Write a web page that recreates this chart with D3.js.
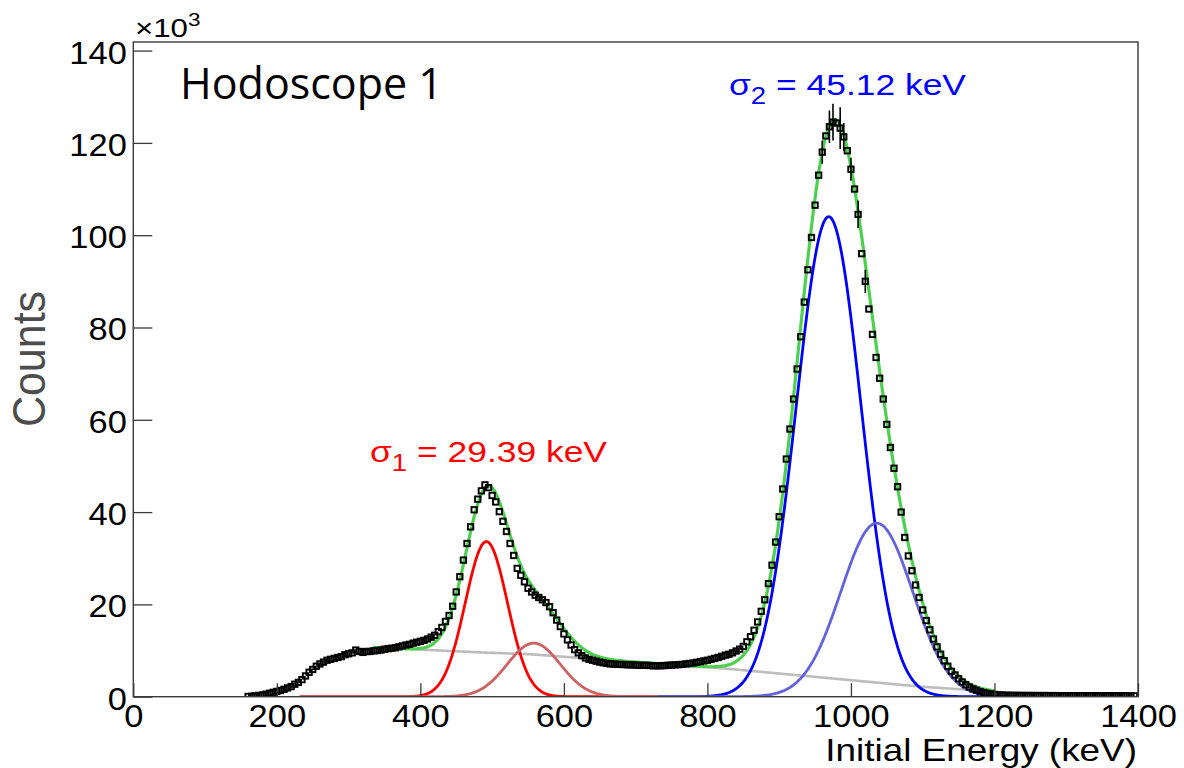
<!DOCTYPE html>
<html>
<head>
<meta charset="utf-8">
<script src="https://cdn.jsdelivr.net/npm/d3@7"></script>
<style>
  html, body { margin: 0; padding: 0; background: #fff; }
  svg { display: block; }
</style>
</head>
<body>
<svg id="chart" width="1184" height="768"></svg>
<script>
// ---- histogram: counts (x10^3) in 5 keV bins starting at 160 keV ----
const binStart = 160;
const binWidth = 5;
const counts = [
  0.05, 0.1, 0.18, 0.28, 0.37, 0.55, 0.75, 0.95,
  1.15, 1.35, 1.6, 1.9, 2.2, 2.7, 3.1, 3.7, 4.5, 5.3, 5.9, 6.6, 7.1, 7.5, 7.9, 8.1, 8.3, 8.5, 8.7, 9.1,
  9.3, 9.5, 10.1, 9.8, 9.6, 9.8, 9.8, 9.95, 10.0, 10.1, 10.3, 10.4, 10.5, 10.6, 10.8, 11.0, 11.2, 11.35, 11.6, 11.8,
  12.0, 12.2, 12.5, 12.9, 13.3, 14.1, 15.0, 16.3, 17.6, 19.6, 22.7, 26.0, 29.6, 33.2, 36.8, 40.5, 42.8, 44.6, 45.9, 45.3,
  43.6, 42.2, 40.1, 38.0, 35.8, 33.2, 30.6, 27.8, 26.3, 24.9, 23.5, 22.7, 22.0, 21.5, 21.0, 20.4, 19.5, 18.2, 16.6, 15.2,
  13.6, 12.3, 11.2, 10.2, 9.5, 8.9, 8.4, 8.1, 7.9, 7.7, 7.5, 7.35, 7.2, 7.1, 7.05, 7.0, 7.0, 6.95, 6.9, 6.9,
  6.85, 6.8, 6.8, 6.8, 6.75, 6.7, 6.7, 6.7, 6.75, 6.8, 6.85, 6.9, 6.95, 7.0, 7.1, 7.2, 7.3, 7.45, 7.6, 7.75,
  7.9, 8.1, 8.3, 8.5, 8.75, 9.0, 9.2, 9.5, 9.9, 10.3, 10.9, 11.9, 13.0, 14.4, 16.2, 18.5, 21.0, 24.5, 28.5, 33.5,
  39.0, 45.0, 51.5, 58.0, 64.5, 71.0, 78.0, 85.5, 92.5, 99.5, 106.5, 113.0, 118.0, 121.5, 123.5, 124.5, 124.3, 123.2, 121.3, 118.3,
  114.3, 110.0, 104.5, 96.0, 90.0, 84.0, 78.5, 73.5, 69.0, 64.5, 59.0, 54.0, 49.5, 45.5, 40.0, 34.5, 30.5, 27.3, 24.2, 21.5,
  18.8, 16.5, 14.5, 12.5, 10.8, 9.2, 7.8, 6.6, 5.5, 4.7, 3.9, 3.2, 2.6, 2.1, 1.7, 1.4, 1.1, 0.9, 0.72, 0.6,
  0.5, 0.42, 0.37, 0.33, 0.3, 0.3, 0.28, 0.28, 0.27, 0.27, 0.26, 0.26, 0.25, 0.25, 0.25, 0.24, 0.24, 0.24, 0.23, 0.23,
  0.23, 0.22, 0.22, 0.22, 0.22, 0.21, 0.21, 0.21, 0.21, 0.2, 0.2, 0.2, 0.2, 0.2, 0.19, 0.19, 0.19, 0.19, 0.19, 0.18
];
// statistical error bars on the bins around the main peak: [energy, error]
const errorBars = [[960, 2.5], [970, 3.5], [975, 4.0], [985, 4.5], [990, 3.0], [1000, 2.5], [1010, 3.0], [1020, 2.5]];

// ---- fit model: four gaussian peaks plus a smooth background ----
const peakMean  = [492, 558, 969, 1036];
const peakSigma = [29.39, 37, 45.12, 50];
const peakAmp   = [33.6, 11.6, 104, 37.6];
const peakRange = [[232, 731], [232, 731], [731, 1231], [731, 1231]];
const bgEnergy  = [334, 388, 483, 553, 622, 700, 818, 957, 1096, 1166, 1200];
const bgCounts  = [10.7, 10.3, 9.6, 9.2, 8.4, 7.5, 6.2, 4.2, 2.2, 1.45, 1.1];
const totalRange = [334, 1200];

// ---- axis ticks and labels ----
const xMajor = [0, 200, 400, 600, 800, 1000, 1200, 1400];
const yMajor = [0, 20, 40, 60, 80, 100, 120, 140];
const title = "Hodoscope 1";
const xTitle = "Initial Energy (keV)";
const yTitle = "Counts";
const sigmaLabels = [["1", " = 29.39 keV"], ["2", " = 45.12 keV"]];

// ---- styles ----
const peakColor = ["#ff0000", "#cc6363", "#0000ff", "#6363dc"];
const drawOrder = [0, 1, 2, 3];
const bgColor = "#bdbdbd";
const totalColor = "#4fcf4f";
const sigmaColor = ["#ff0000", "#0000ff"];
const helv = "'Liberation Sans', Arial, Helvetica, sans-serif";
const stretch = 1.13;

const svg = d3.select("#chart");
const L = 133.3, R = 1138, T = 42, B = 696.7;
const x = d3.scaleLinear().domain([0, 1400]).range([L, R]);
const y = d3.scaleLinear().domain([0, 141.86]).range([B, T]);

svg.append("rect").attr("width", 1184).attr("height", 768).attr("fill", "#fff");

// clip for curves
svg.append("clipPath").attr("id", "plot")
  .append("rect").attr("x", L).attr("y", T).attr("width", R - L).attr("height", B - T);
const plot = svg.append("g").attr("clip-path", "url(#plot)");

const gauss = (i, e) => peakAmp[i] * Math.exp(-0.5 * Math.pow((e - peakMean[i]) / peakSigma[i], 2));
const bg = d3.scaleLinear().domain(bgEnergy).range(bgCounts).clamp(true);
const line = d3.line().x(d => x(d[0])).y(d => y(d[1]));

// background
const bgPts = d3.range(bgEnergy[1], bgEnergy[bgEnergy.length - 1] + 0.1, 2).map(e => [e, bg(e)]);
plot.append("path").attr("d", line.curve(d3.curveMonotoneX)(bgPts))
  .attr("fill", "none").attr("stroke", bgColor).attr("stroke-width", 2.6);

// individual peaks
drawOrder.forEach(i => {
  const pts = d3.range(peakRange[i][0], peakRange[i][1] + 0.1, 1).map(e => [e, gauss(i, e)]);
  plot.append("path").attr("d", line(pts))
    .attr("fill", "none").attr("stroke", peakColor[i]).attr("stroke-width", 2.8)
    .attr("stroke-linejoin", "round");
});

// total fit
const totPts = d3.range(totalRange[0], totalRange[1] + 0.1, 1)
  .map(e => [e, bg(e) + d3.sum(peakMean, (m, i) => gauss(i, e))]);
plot.append("path").attr("d", line(totPts))
  .attr("fill", "none").attr("stroke", totalColor).attr("stroke-width", 3.2)
  .attr("stroke-linejoin", "round");

// data points
const data = counts.map((c, i) => [binStart + i * binWidth, c]);
const errMap = new Map(errorBars);
const dg = plot.append("g");
dg.selectAll("line.err").data(data.filter(d => errMap.has(d[0]))).join("line")
  .attr("x1", d => x(d[0])).attr("x2", d => x(d[0]))
  .attr("y1", d => y(d[1] - errMap.get(d[0]))).attr("y2", d => y(d[1] + errMap.get(d[0])))
  .attr("stroke", "#000").attr("stroke-width", 1.6);
const ms = 5.4;
dg.selectAll("rect.pt").data(data).join("rect")
  .attr("x", d => x(d[0]) - ms / 2).attr("y", d => y(d[1]) - ms / 2)
  .attr("width", ms).attr("height", ms)
  .attr("fill", "none").attr("stroke", "#000").attr("stroke-width", 1.9);

// frame
svg.append("rect").attr("x", L).attr("y", T).attr("width", R - L).attr("height", B - T)
  .attr("fill", "none").attr("stroke", "#3a3a3a").attr("stroke-width", 1.4);

// x axis
const xMinor = d3.range(0, 1401, 50).filter(v => !xMajor.includes(v));
const gx = svg.append("g").attr("transform", `translate(0,${B})`);
gx.call(d3.axisBottom(x).tickValues(xMinor).tickSize(-7).tickSizeOuter(0).tickFormat(""));
gx.call(d3.axisBottom(x).tickValues(xMajor).tickSize(-13.5).tickSizeOuter(0).tickFormat(d3.format("d")));
gx.select(".domain").remove();
gx.selectAll(".tick line").attr("stroke", "#3a3a3a").attr("stroke-width", 1.3);
gx.selectAll(".tick text")
  .attr("y", 30.3).attr("dy", null)
  .attr("transform", `scale(${stretch},1)`)
  .attr("font-family", helv).attr("font-size", 30.5).attr("fill", "#000");

// y axis
const yMinor = d3.range(0, 141, 5).filter(v => !yMajor.includes(v));
const gy = svg.append("g").attr("transform", `translate(${L},0)`);
gy.call(d3.axisLeft(y).tickValues(yMinor).tickSize(-9.5).tickSizeOuter(0).tickFormat(""));
gy.call(d3.axisLeft(y).tickValues(yMajor).tickSize(-19).tickSizeOuter(0).tickFormat(d3.format("d")));
gy.select(".domain").remove();
gy.selectAll(".tick line").attr("stroke", "#3a3a3a").attr("stroke-width", 1.3);
gy.selectAll(".tick text")
  .attr("x", -6.5 / stretch).attr("y", 12.5).attr("dy", null)
  .attr("text-anchor", "end")
  .attr("transform", `scale(${stretch},1)`)
  .attr("font-family", helv).attr("font-size", 30.5).attr("fill", "#000");

// exponent marker
const ex = svg.append("text").attr("transform", `translate(135,37) scale(1.25,1)`)
  .attr("font-family", helv).attr("font-size", 25).attr("fill", "#000");
ex.append("tspan").text("\u00d710");
ex.append("tspan").attr("font-size", 18).attr("dy", -11).text("3");

// axis titles
svg.append("text").attr("transform", `translate(1137,761.3) scale(1.21,1)`)
  .attr("text-anchor", "end").attr("font-family", helv).attr("font-size", 30.5).attr("fill", "#000")
  .text(xTitle);
svg.append("text").attr("transform", `translate(45,359) rotate(-90) scale(1,1.07)`)
  .attr("text-anchor", "middle").attr("font-family", helv).attr("font-size", 43).attr("fill", "#4d4d4d")
  .text(yTitle);

// pad title
svg.append("text").attr("x", 180).attr("y", 99)
  .attr("font-family", "'Open Sans', sans-serif").attr("font-size", 43).attr("fill", "#000")
  .text(title);

// peak width annotations
const sigmaPos = [[370, 461.7], [729, 95]];
sigmaLabels.forEach((s, i) => {
  const t = svg.append("text")
    .attr("transform", `translate(${sigmaPos[i][0]},${sigmaPos[i][1]}) scale(1.2,1)`)
    .attr("font-family", helv).attr("font-size", 29.5).attr("fill", sigmaColor[i]);
  t.append("tspan").text("\u03c3");
  t.append("tspan").attr("font-size", 23).attr("dy", 9).text(s[0]);
  t.append("tspan").attr("dy", -9).text(s[1]);
});
</script>
</body>
</html>
